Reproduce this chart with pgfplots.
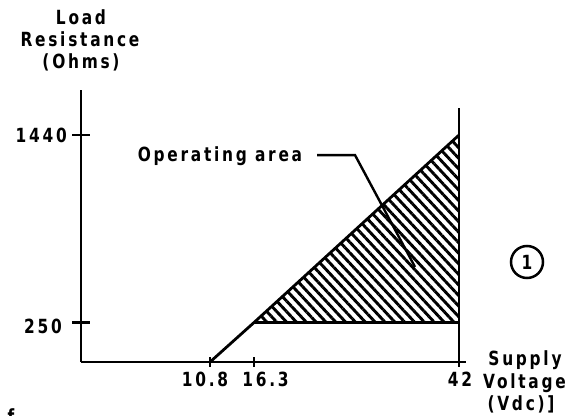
\documentclass[border=0pt]{standalone}
\usepackage{fontspec}
\setmainfont{DejaVu Sans}[FakeStretch=0.79, LetterSpace=14]
\usepackage{pgfplots}
\pgfplotsset{compat=1.18}
\usetikzlibrary{patterns.meta}
\begin{document}
\begin{tikzpicture}[every node/.style={inner sep=0pt, font=\fontsize{19.5bp}{22bp}\selectfont\bfseries}]
\useasboundingbox (-81bp,-54bp) rectangle (492bp,362bp);
\begin{axis}[
  scale only axis, width=385bp, height=272bp,
  xmin=-5.37, xmax=42.88, ymin=0, ymax=1726,
  axis x line=bottom, axis y line=left,
  axis line style={-, line width=2.8bp},
  xtick={10.8,16.3,42}, ytick={250,1440},
  xticklabels={}, yticklabels={},
  tick align=center,
  major tick length=18bp,
  tick style={line width=2.4bp, black},
  xtick style={/pgfplots/major tick length=9bp},
  clip=false,
]
\addplot[draw=none, pattern={Lines[angle=-47, distance=7.2bp, line width=2.9bp]}] coordinates {(16.3,250) (42,250) (42,1440)} -- cycle;
\addplot[line width=2.8bp] coordinates {(10.8,0) (16.3,250) (42,1440)};
\addplot[line width=2.8bp] coordinates {(16.3,250) (42,250)};
\addplot[line width=2.8bp] coordinates {(42,0) (42,1610)};
\addplot[line width=2.4bp] coordinates {(24.21,1313) (28.97,1313) (36.49,603)};
\end{axis}
\node[anchor=base] at (0bp,337bp) {Load};
\node[anchor=base] at (-1bp,315bp) {Resistance};
\node[anchor=base] at (0bp,293bp) {(Ohms)};
\node[anchor=base east] at (-14bp,219bp) {1440};
\node[anchor=base east] at (-19bp,29bp) {250};
\node[anchor=base] at (124bp,-24bp) {10.8};
\node[anchor=base] at (184.5bp,-24bp) {16.3};
\node[anchor=base] at (379bp,-24bp) {42};
\node[anchor=base] at (444bp,-3bp) {Supply};
\node[anchor=base] at (443.5bp,-26bp) {Voltage};
\node[anchor=base] at (440bp,-48bp) {(Vdc)]};
\node[anchor=base] at (139bp,200bp) {Operating area};
\draw[line width=2.5bp] (446bp,100bp) circle (16bp);
\node at (446bp,100bp) {1};
\node[anchor=north] at (-70bp,-46bp) {f};
\end{tikzpicture}
\end{document}
